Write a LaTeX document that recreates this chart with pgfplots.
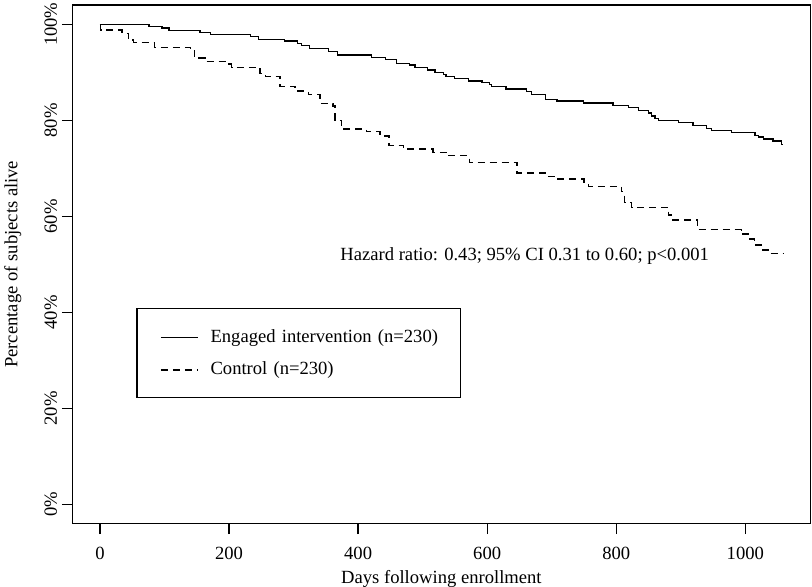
\documentclass[border=0pt]{standalone}
\usepackage{pgfplots}
\pgfplotsset{compat=1.18}
\usepackage{pgfplotstable}
\usepackage{fontspec}
\setmainfont{Liberation Serif}

\pgfplotstableread{
day surv
0 100
76 99.6
96 99.2
107 98.7
155 98.3
171 97.8
233 97.4
246 96.9
286 96.5
306 96.0
312 95.6
325 94.9
354 94.3
368 93.6
421 93.1
442 92.7
460 91.9
480 91.5
488 91.0
507 90.5
519 90.0
532 89.6
536 89.1
549 88.7
571 88.2
592 87.8
604 87.4
607 87.0
629 86.5
661 86.0
669 85.3
690 84.4
708 84.0
749 83.6
795 83.1
819 82.6
834 82.1
850 81.5
855 80.9
860 80.4
865 79.9
896 79.5
919 78.9
940 78.3
948 77.8
979 77.4
1015 76.9
1020 76.5
1028 76.1
1043 75.7
1056 74.9
1058 74.9
}\engaged

\pgfplotstableread{
day surv
0 100
1 98.8
34 98.1
44 96.7
52 96.2
84 95.2
140 94.6
146 93.0
163 92.2
196 91.7
204 91.0
248 89.8
256 89.1
279 87.1
302 86.1
323 85.3
341 83.5
361 83.0
364 80.0
374 78.2
413 77.6
434 76.7
448 74.7
470 74.0
516 73.3
536 72.6
573 71.2
646 69.0
692 68.3
708 67.8
750 67.0
757 66.2
808 65.1
813 62.9
824 61.9
881 60.3
886 59.2
926 57.2
994 56.3
1004 55.3
1014 54.0
1025 53.0
1035 52.2
1058 52.2
}\control

\begin{document}
\begin{tikzpicture}[font=\fontsize{9.3pt}{11pt}\selectfont]
\useasboundingbox (-36.15pt,-31.65pt) rectangle (369.85pt,261.85pt);
\begin{axis}[
  at={(0pt,0pt)}, anchor=south west,
  scale only axis, width=369.1pt, height=259.35pt,
  xmin=-42.9, xmax=1101, ymin=-4.04, ymax=104.02,
  axis line style={line width=0.65pt},
  tick align=outside, major tick length=5.25pt,
  tick style={line width=0.65pt, black},
  xtick pos=bottom, ytick pos=left,
  xtick={0,200,400,600,800,1000},
  xticklabels={0,200,400,600,800,1000},
  ytick={0,20,40,60,80,100},
  yticklabels={0\%,20\%,40\%,60\%,80\%,100\%},
  /pgf/number format/assume math mode=true,
  tick label style={font=\fontsize{9.3pt}{11pt}\selectfont},
  xticklabel style={anchor=base, inner sep=0pt},
  xticklabel shift=12.75pt,
  yticklabel style={rotate=90, anchor=base, inner sep=0pt},
  yticklabel shift=2.5pt,
  xlabel={Days following enrollment},
  ylabel={Percentage of subjects alive},
  label style={font=\fontsize{9.3pt}{11pt}\selectfont, inner sep=0pt},
  xlabel style={at={(axis description cs:0.5,0)}, anchor=base, yshift=-29.8pt},
  ylabel style={at={(axis description cs:-0.0745,0.5)}, anchor=base},
  legend style={at={(0.0867,0.4158)}, anchor=north west, draw=black,
    line width=0.65pt, inner xsep=5pt, inner ysep=9.35pt,
    row sep=6.8pt, column sep=6.15pt,
    font=\fontsize{9.3pt}{11pt}\selectfont,
    nodes={inner sep=0pt, anchor=base west, text height=7.5pt, text depth=2pt,
      text width=120pt, align=left}},
  legend image code/.code={\path (-6.65pt,0pt); \draw[#1] (0pt,2.5pt) -- (18.35pt,2.5pt);},
]
\addplot[const plot, black, line width=0.65pt] table[x=day, y=surv] {\engaged};
\addlegendentry{Engaged intervention (n=230)}
\addplot[const plot, black, line width=0.65pt, dash pattern=on 3.5pt off 2.5pt] table[x=day, y=surv] {\control};
\addlegendentry{Control (n=230)}
\node[anchor=base west, inner sep=0pt, font=\fontsize{9.3pt}{11pt}\selectfont] at (axis cs:372,50.75) {Hazard ratio: 0.43; 95\% CI 0.31 to 0.60; p<0.001};
\end{axis}
\end{tikzpicture}
\end{document}
